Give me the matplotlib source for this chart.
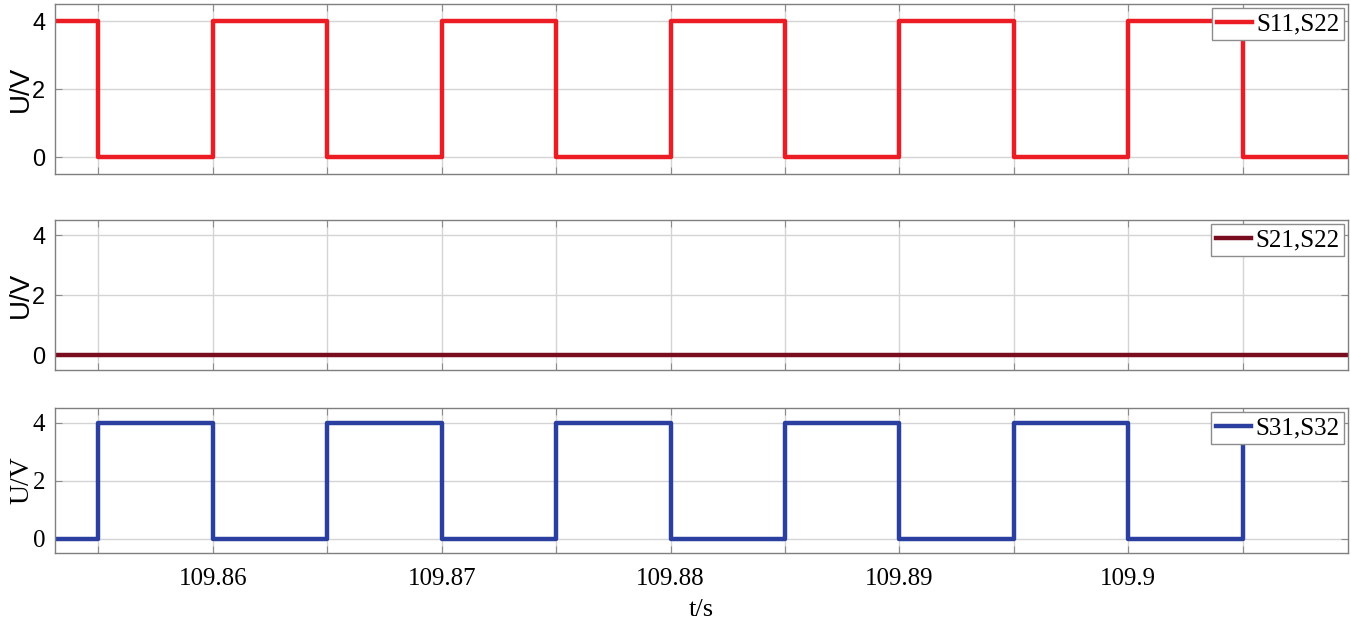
import matplotlib
matplotlib.use("Agg")
import matplotlib.pyplot as plt
from matplotlib.ticker import FixedLocator, FuncFormatter

# switching instants (s) and gate levels (V)
t_start = 109.8531
t_end = 109.9096

s11_t = [109.8531, 109.855, 109.86, 109.865, 109.87, 109.875, 109.88,
         109.885, 109.89, 109.895, 109.90, 109.905, 109.9096]
s11_u = [4, 0, 4, 0, 4, 0, 4, 0, 4, 0, 4, 0, 0]

s21_t = [109.8531, 109.9096]
s21_u = [0, 0]

s31_t = [109.8531, 109.855, 109.86, 109.865, 109.87, 109.875, 109.88,
         109.885, 109.89, 109.895, 109.90, 109.905]
s31_u = [0, 4, 0, 4, 0, 4, 0, 4, 0, 4, 0, 4]

grid_t = [109.855, 109.86, 109.865, 109.87, 109.875, 109.88, 109.885,
          109.89, 109.895, 109.90, 109.905]
label_t = [109.86, 109.87, 109.88, 109.89, 109.90]
y_ticks = [0, 2, 4]

names = ["S11,S22", "S21,S22", "S31,S32"]
colors = ["#ec1c24", "#7a0c1f", "#2a3fa0"]

fig = plt.figure(figsize=(13.51, 6.24), dpi=100)

L = 55 / 1351
W = (1348 - 55) / 1351
boxes = [(4, 174), (220, 370), (408, 553)]  # pixel top/bottom of each panel

series = [(s11_t, s11_u), (s21_t, s21_u), (s31_t, s31_u)]
axes = []
for i, (top, bot) in enumerate(boxes):
    ax = fig.add_axes([L, (624 - bot) / 624, W, (bot - top) / 624])
    t, u = series[i]
    ax.plot(t, u, drawstyle="steps-post", color=colors[i], lw=3.2, label=names[i])
    ax.set_xlim(t_start, t_end)
    ax.set_ylim(-0.5, 4.5)
    ax.set_yticks(y_ticks)
    ax.xaxis.set_major_locator(FixedLocator(grid_t))
    ax.grid(True, color="#d4d4d4", lw=1.0)
    ax.set_axisbelow(True)
    for sp in ax.spines.values():
        sp.set_color("#7f7f7f")
        sp.set_linewidth(1.0)
    ax.tick_params(direction="in", length=5, color="#8c8c8c",
                   top=True, right=True, labelsize=18)
    # top two panels are labelled in a sans font, bottom one in serif
    yfam = "Liberation Serif" if i == 2 else "Liberation Sans"
    ysize = 18 if i == 2 else 17
    for lab in ax.get_yticklabels():
        lab.set_family(yfam)
        lab.set_fontsize(ysize)
    ax.set_ylabel("U/V", family=yfam, fontsize=20, labelpad=-1)
    ax.tick_params(axis="y", pad=7)
    leg = ax.legend(loc="upper right", fancybox=False, framealpha=1,
                    edgecolor="#8c8c8c", borderaxespad=0.15, borderpad=0.2,
                    handlelength=1.4, handletextpad=0.15,
                    prop={"family": "Liberation Serif", "size": 18})
    leg.get_frame().set_linewidth(1.0)
    axes.append(ax)

for ax in axes[:2]:
    ax.tick_params(axis="x", labelbottom=False)

bax = axes[2]
bax.xaxis.set_major_formatter(FuncFormatter(
    lambda v, p: ("%g" % round(v, 2)) if any(abs(v - s) < 1e-6 for s in label_t) else ""))
for lab in bax.get_xticklabels():
    lab.set_family("Liberation Serif")
bax.tick_params(axis="x", pad=11)
bax.set_xlabel("t/s", family="Liberation Serif", fontsize=19, labelpad=6)

fig.savefig("out.png", dpi=100)
